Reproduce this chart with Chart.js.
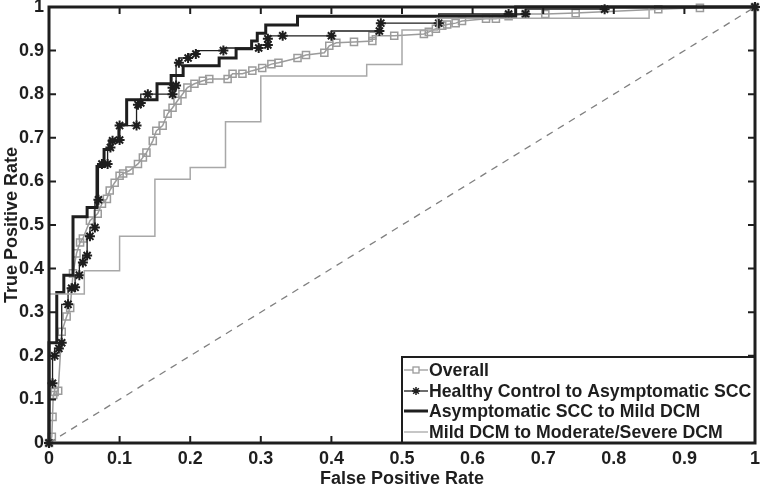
<!DOCTYPE html>
<html lang="en">
<head>
  <meta charset="UTF-8">
  <title>ROC</title>
  <script src="https://cdn.jsdelivr.net/npm/chart.js"></script>
  <style>
    html, body { margin: 0; padding: 0; background: #fff; }
    #wrap { width: 762px; height: 486px; }
  </style>
</head>
<body>
  <div id="wrap"><canvas id="roc" width="762" height="486"></canvas></div>

  <script>
    const xTicks = [0, 0.1, 0.2, 0.3, 0.4, 0.5, 0.6, 0.7, 0.8, 0.9, 1];
    const yTicks = [0, 0.1, 0.2, 0.3, 0.4, 0.5, 0.6, 0.7, 0.8, 0.9, 1];
    const seriesNames = ["Overall", "Healthy Control to Asymptomatic SCC", "Asymptomatic SCC to Mild DCM", "Mild DCM to Moderate/Severe DCM"];

    // Overall (gray, square markers)
    const overallX = [0, 0.004, 0.005, 0.006, 0.008, 0.013, 0.018, 0.025, 0.03, 0.034, 0.039, 0.044, 0.048, 0.058, 0.069, 0.075, 0.082, 0.086, 0.093, 0.1, 0.105, 0.114, 0.126, 0.133, 0.138, 0.147, 0.152, 0.161, 0.168, 0.175, 0.182, 0.189, 0.196, 0.206, 0.218, 0.227, 0.253, 0.26, 0.274, 0.288, 0.302, 0.315, 0.325, 0.352, 0.364, 0.39, 0.397, 0.407, 0.432, 0.458, 0.458, 0.489, 0.531, 0.538, 0.548, 0.557, 0.564, 0.576, 0.585, 0.619, 0.633, 0.651, 0.675, 0.703, 0.746, 0.863, 0.922, 1];
    const overallY = [0, 0.014, 0.06, 0.11, 0.117, 0.12, 0.255, 0.29, 0.31, 0.389, 0.435, 0.46, 0.469, 0.51, 0.526, 0.549, 0.56, 0.579, 0.597, 0.613, 0.618, 0.625, 0.64, 0.655, 0.666, 0.693, 0.716, 0.728, 0.755, 0.769, 0.785, 0.8, 0.815, 0.824, 0.831, 0.835, 0.835, 0.847, 0.847, 0.854, 0.86, 0.869, 0.872, 0.883, 0.89, 0.895, 0.911, 0.918, 0.92, 0.922, 0.934, 0.934, 0.938, 0.943, 0.95, 0.957, 0.96, 0.963, 0.968, 0.973, 0.973, 0.979, 0.984, 0.984, 0.986, 0.995, 0.998, 1];

    // Healthy Control to Asymptomatic SCC (black, asterisks)
    const healthyX = [0, 0.005, 0.008, 0.014, 0.018, 0.027, 0.032, 0.037, 0.043, 0.048, 0.054, 0.058, 0.065, 0.07, 0.075, 0.083, 0.087, 0.09, 0.1, 0.1, 0.124, 0.126, 0.13, 0.14, 0.175, 0.175, 0.18, 0.184, 0.197, 0.208, 0.247, 0.297, 0.31, 0.31, 0.331, 0.4, 0.468, 0.47, 0.552, 0.651, 0.675, 0.787, 1];
    const healthyY = [0, 0.137, 0.2, 0.217, 0.23, 0.318, 0.355, 0.357, 0.385, 0.414, 0.43, 0.474, 0.494, 0.558, 0.64, 0.64, 0.678, 0.693, 0.695, 0.728, 0.728, 0.776, 0.78, 0.8, 0.8, 0.815, 0.82, 0.872, 0.883, 0.892, 0.9, 0.906, 0.913, 0.927, 0.934, 0.934, 0.945, 0.963, 0.963, 0.984, 0.984, 0.995, 1];

    // Asymptomatic SCC to Mild DCM (thick black)
    const asymX = [0, 0, 0.011, 0.011, 0.021, 0.021, 0.034, 0.034, 0.054, 0.054, 0.068, 0.068, 0.078, 0.078, 0.086, 0.086, 0.099, 0.099, 0.11, 0.11, 0.153, 0.153, 0.173, 0.173, 0.19, 0.19, 0.241, 0.241, 0.265, 0.265, 0.287, 0.287, 0.295, 0.295, 0.307, 0.307, 0.352, 0.352, 0.661, 0.661, 1];
    const asymY = [0, 0.23, 0.23, 0.345, 0.345, 0.385, 0.385, 0.519, 0.519, 0.54, 0.54, 0.634, 0.634, 0.673, 0.673, 0.693, 0.693, 0.73, 0.73, 0.787, 0.787, 0.824, 0.824, 0.843, 0.843, 0.865, 0.865, 0.883, 0.883, 0.904, 0.904, 0.922, 0.922, 0.94, 0.94, 0.959, 0.959, 0.979, 0.979, 1, 1];

    // Mild DCM to Moderate/Severe DCM (thin gray)
    const mildX = [0, 0, 0.05, 0.05, 0.1, 0.1, 0.15, 0.15, 0.2, 0.2, 0.25, 0.25, 0.3, 0.3, 0.45, 0.45, 0.5, 0.5, 0.55, 0.55, 0.85, 0.85, 1];
    const mildY = [0, 0.342, 0.342, 0.395, 0.395, 0.474, 0.474, 0.605, 0.605, 0.632, 0.632, 0.737, 0.737, 0.842, 0.842, 0.868, 0.868, 0.947, 0.947, 0.974, 0.974, 1, 1];

    const chanceX = [0, 1];
    const chanceY = [0, 1];

    function pts(xs, ys) {
      return xs.map((x, i) => ({ x: x, y: ys[i] }));
    }

    const FONT = "'Liberation Sans', Arial, sans-serif";
    const INK = "#1e1e1e";
    const GRAY_O = "#9b9b9b";
    const GRAY_M = "#a8a8a8";

    function fmt(v) {
      const n = Math.round(v * 10) / 10;
      return String(n);
    }

    // MATLAB-like box, inward ticks and legend
    const boxPlugin = {
      id: 'boxPlugin',
      afterDraw(chart) {
        const ctx = chart.ctx;
        const a = chart.chartArea;
        const xs = chart.scales.x, ys = chart.scales.y;
        ctx.save();
        ctx.strokeStyle = INK;
        ctx.lineWidth = 2;
        xTicks.forEach(t => {
          const px = xs.getPixelForValue(t);
          ctx.beginPath();
          ctx.moveTo(px, a.bottom); ctx.lineTo(px, a.bottom - 7);
          ctx.moveTo(px, a.top); ctx.lineTo(px, a.top + 7);
          ctx.stroke();
        });
        yTicks.forEach(t => {
          const py = ys.getPixelForValue(t);
          ctx.beginPath();
          ctx.moveTo(a.left, py); ctx.lineTo(a.left + 7, py);
          ctx.moveTo(a.right, py); ctx.lineTo(a.right - 7, py);
          ctx.stroke();
        });

        // legend
        const lx = 402, ly = 357, lw = a.right - 402, lh = a.bottom - 357;
        ctx.fillStyle = "#fff";
        ctx.fillRect(lx, ly, lw, lh);
        ctx.lineWidth = 2;
        ctx.strokeRect(lx, ly, lw, lh);
        const rows = [370, 391, 411, 432];
        const styles = [
          { c: GRAY_O, w: 1.3, m: 'rect' },
          { c: INK, w: 1.3, m: 'star' },
          { c: INK, w: 3, m: null },
          { c: GRAY_M, w: 1.3, m: null }
        ];
        ctx.font = "bold 17.7px " + FONT;
        ctx.textBaseline = "middle";
        ctx.textAlign = "left";
        seriesNames.forEach((name, i) => {
          const y = rows[i], s = styles[i];
          ctx.strokeStyle = s.c;
          ctx.lineWidth = s.w;
          ctx.beginPath();
          ctx.moveTo(404, y); ctx.lineTo(428, y);
          ctx.stroke();
          if (s.m === 'rect') {
            ctx.fillStyle = "#fff";
            ctx.fillRect(413, y - 3, 6, 6);
            ctx.strokeRect(413, y - 3, 6, 6);
          } else if (s.m === 'star') {
            ctx.lineWidth = 1.5;
            ctx.beginPath();
            for (let k = 0; k < 4; k++) {
              const ang = k * Math.PI / 4;
              ctx.moveTo(416 - 4 * Math.cos(ang), y - 4 * Math.sin(ang));
              ctx.lineTo(416 + 4 * Math.cos(ang), y + 4 * Math.sin(ang));
            }
            ctx.stroke();
          }
          ctx.fillStyle = INK;
          ctx.fillText(name, 429, y + 1);
        });

        // axes box
        ctx.strokeStyle = INK;
        ctx.lineWidth = 3;
        ctx.strokeRect(a.left, a.top, a.right - a.left, a.bottom - a.top);
        ctx.restore();
      }
    };

    const ctx = document.getElementById("roc").getContext("2d");
    const chart = new Chart(ctx, {
      type: 'scatter',
      data: {
        datasets: [
          {
            label: 'chance',
            data: pts(chanceX, chanceY),
            showLine: true,
            borderColor: '#808080',
            borderWidth: 1.3,
            borderDash: [7, 6],
            pointRadius: 0,
            order: 0
          },
          {
            label: seriesNames[3],
            data: pts(mildX, mildY),
            showLine: true,
            borderColor: GRAY_M,
            borderWidth: 1.5,
            pointRadius: 0,
            order: 1
          },
          {
            label: seriesNames[2],
            data: pts(asymX, asymY),
            showLine: true,
            borderColor: INK,
            borderWidth: 3,
            pointRadius: 0,
            order: 2
          },
          {
            label: seriesNames[1],
            data: pts(healthyX, healthyY),
            showLine: true,
            stepped: 'after',
            borderColor: INK,
            borderWidth: 1.3,
            pointStyle: 'star',
            pointRadius: 5,
            pointBorderWidth: 2,
            pointBorderColor: INK,
            pointBackgroundColor: INK,
            order: 3
          },
          {
            label: seriesNames[0],
            data: pts(overallX, overallY),
            showLine: true,
            borderColor: GRAY_O,
            borderWidth: 1.5,
            pointStyle: 'rect',
            pointRadius: 5,
            pointBorderWidth: 1.5,
            pointBorderColor: GRAY_O,
            pointBackgroundColor: 'rgba(255,255,255,0)',
            order: 4
          }
        ]
      },
      options: {
        responsive: false,
        animation: false,
        clip: false,
        layout: { padding: { top: 6, right: 5, left: 0, bottom: 0 } },
        plugins: {
          legend: { display: false },
          tooltip: { enabled: false }
        },
        scales: {
          x: {
            type: 'linear',
            min: 0, max: 1,
            afterBuildTicks: s => { s.ticks = xTicks.map(v => ({ value: v })); },
            afterFit: s => { s.height = 43; s.paddingLeft = 0; s.paddingRight = 0; },
            grid: { display: false, drawTicks: false },
            border: { display: false },
            ticks: {
              padding: 5,
              maxRotation: 0,
              color: INK,
              font: { family: FONT, size: 18, weight: 'bold' },
              callback: v => fmt(v)
            },
            title: {
              display: true,
              text: 'False Positive Rate',
              color: INK,
              padding: { top: 0, bottom: -4 },
              font: { family: FONT, size: 18, weight: 'bold' }
            }
          },
          y: {
            type: 'linear',
            min: 0, max: 1,
            afterBuildTicks: s => { s.ticks = yTicks.map(v => ({ value: v })); },
            afterFit: s => { s.width = 49; s.paddingTop = 0; s.paddingBottom = 0; },
            grid: { display: false, drawTicks: false },
            border: { display: false },
            ticks: {
              padding: 5,
              color: INK,
              font: { family: FONT, size: 18, weight: 'bold' },
              callback: v => fmt(v)
            },
            title: {
              display: true,
              text: 'True Positive Rate',
              color: INK,
              padding: { top: 1, bottom: 0 },
              font: { family: FONT, size: 18, weight: 'bold' }
            }
          }
        }
      },
      plugins: [boxPlugin]
    });
  </script>
</body>
</html>
